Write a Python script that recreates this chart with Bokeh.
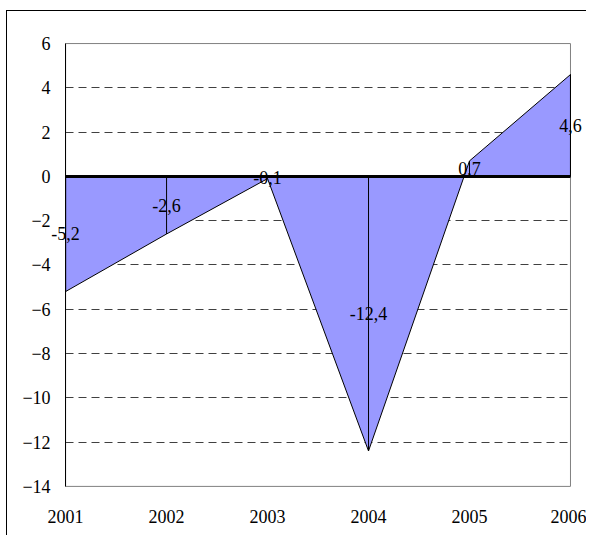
from bokeh.plotting import figure
from bokeh.embed import file_html
from bokeh.resources import INLINE
from bokeh.models import FixedTicker, ColumnDataSource, LabelSet

years = [2001, 2002, 2003, 2004, 2005, 2006]
values = [-5.2, -2.6, -0.1, -12.4, 0.7, 4.6]
y_ticks = [-14, -12, -10, -8, -6, -4, -2, 0, 2, 4, 6]
grid_ticks = [-12, -10, -8, -6, -4, -2, 2, 4]

labels = [f"{v:.1f}".replace(".", ",") for v in values]
src = ColumnDataSource(dict(
    x=years, y=values, zero=[0] * len(years),
    mid=[v / 2 for v in values], lab=labels))

FONT = "Liberation Serif"

# layout (pixels): canvas 580x525, data box inside it
W, H = 580, 525
BOX_L, BOX_R, BOX_T, BOX_B = 58, 562, 32, 474
px_per_x = (BOX_R - BOX_L) / (years[-1] - years[0])
px_per_y = (BOX_B - BOX_T) / (y_ticks[-1] - y_ticks[0])
x_start = years[0] - BOX_L / px_per_x
x_end = years[-1] + (W - 1 - BOX_R) / px_per_x
y_end = y_ticks[-1] + BOX_T / px_per_y
y_start = y_ticks[0] - (H - 1 - BOX_B) / px_per_y

p = figure(width=W, height=H, output_backend="svg", toolbar_location=None,
           x_range=(x_start, x_end), y_range=(y_start, y_end),
           min_border=0)
p.styles = {"border-left": "1px solid black", "border-top": "1px solid black",
            "margin-top": "10px", "margin-left": "6px"}
p.background_fill_color = "white"
p.border_fill_color = "white"
p.outline_line_color = None

# plot-area outline
p.quad(left=years[0], right=years[-1], bottom=y_ticks[0], top=y_ticks[-1],
       fill_color=None, line_color="#808080", line_width=1)
# area polygon
px = years + [years[-1], years[0]]
py = values + [0, 0]
p.patch(px, py, fill_color="#9999FF", line_color="black", line_width=1)
# drop lines
p.segment(x0="x", y0="zero", x1="x", y1="y", source=src, line_color="black", line_width=1)
# zero line
p.segment(x0=[years[0]], y0=[0], x1=[years[-1]], y1=[0], line_color="black", line_width=3)
# labels
p.add_layout(LabelSet(x="x", y="mid", text="lab", source=src, text_align="center",
                      text_baseline="middle", text_font=FONT,
                      text_font_size="18px", text_color="black"))

p.xaxis.ticker = FixedTicker(ticks=years)
p.yaxis.ticker = FixedTicker(ticks=y_ticks)
p.xaxis.fixed_location = y_ticks[0]
p.yaxis.fixed_location = years[0]
p.yaxis.bounds = (y_ticks[0], y_ticks[-1])
p.xaxis.bounds = (years[0], years[-1])
for ax in (p.xaxis, p.yaxis):
    ax.major_label_text_font = FONT
    ax.major_label_text_font_size = "18px"
    ax.major_label_text_color = "black"
    ax.major_tick_out = 0
    ax.major_tick_in = 0
    ax.minor_tick_out = 0
    ax.minor_tick_in = 0
p.xaxis.axis_line_color = None
p.xaxis.major_label_standoff = 24
p.yaxis.axis_line_color = "black"
p.yaxis.axis_line_width = 1
p.yaxis.major_label_standoff = 15

p.xgrid.grid_line_color = None
p.ygrid.ticker = FixedTicker(ticks=grid_ticks)
p.ygrid.cross_bounds = (years[0], years[-1])
p.ygrid.grid_line_color = "#404040"
p.ygrid.grid_line_dash = "8 5"
p.ygrid.grid_line_width = 1

open("out.html", "w").write(file_html(p, INLINE))
